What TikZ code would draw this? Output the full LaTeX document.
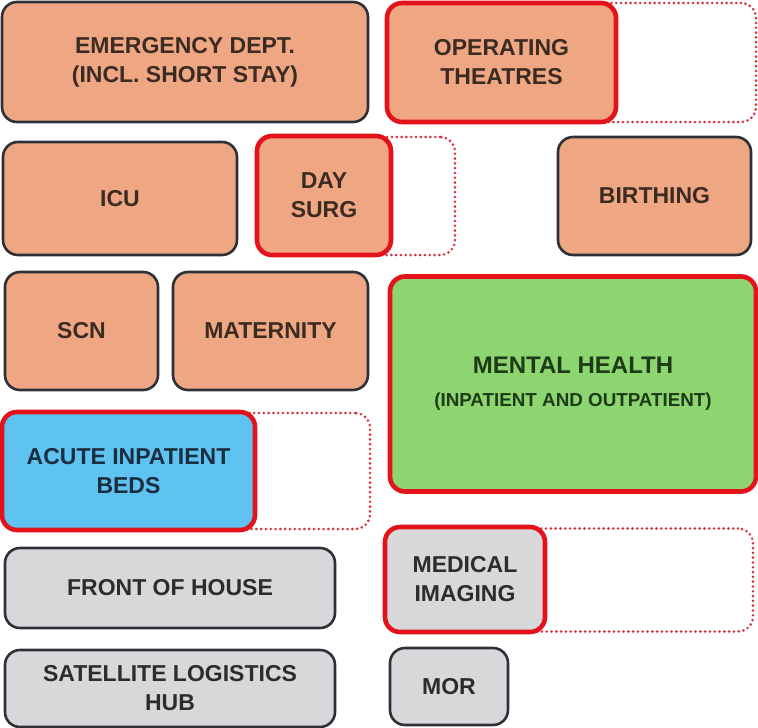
\documentclass[tikz,border=0pt]{standalone}
\usepackage{fontspec}
\setmainfont{Liberation Sans}
\usepackage{tikz}
\usetikzlibrary{positioning}
\definecolor{clincol}{HTML}{EFA783}
\definecolor{mhcol}{HTML}{8DD570}
\definecolor{bedcol}{HTML}{5EC3F0}
\definecolor{suppcol}{HTML}{D8D8DB}
\definecolor{edgecol}{HTML}{2B3137}
\definecolor{flagcol}{HTML}{E3121B}
\definecolor{growcol}{HTML}{D8303C}
\definecolor{txtcol}{HTML}{3B2B22}
\definecolor{mhtxt}{HTML}{1E3A16}
\definecolor{bedtxt}{HTML}{1B2D40}
\definecolor{supptxt}{HTML}{2C2C2E}
\begin{document}
\begin{tikzpicture}[x=1pt,y=-1pt,
  dept/.style={draw=edgecol,line width=2.6pt,rounded corners=15pt,align=center,
    text=txtcol,font=\bfseries\fontsize{23}{29}\selectfont,inner sep=0pt},
  flagged/.style={dept,draw=flagcol,line width=4.6pt},
  growth/.style={draw=growcol,line width=2.9pt,line cap=round,dash pattern=on 0pt off 4.8pt,
    rounded corners=15pt,inner sep=0pt}]
  \useasboundingbox (0,0) rectangle (758,728);
  % dotted expansion zones, drawn first so the boxes cover them
  \node[growth,minimum width=369,minimum height=119] (otx) at (571.5,62.5) {};
  \node[growth,minimum width=198,minimum height=118] (dsx) at (356,196) {};
  \node[growth,minimum width=368,minimum height=116] (acux) at (186,471) {};
  \node[growth,minimum width=368,minimum height=103] (mix) at (569,580) {};
  % clinical
  \node[dept,fill=clincol,minimum width=366,minimum height=120] (ed) at (185,62) {EMERGENCY DEPT.\\(INCL. SHORT STAY)};
  \node[flagged,fill=clincol,minimum width=229,minimum height=119] (ot) at (501.5,62.5) {OPERATING\\THEATRES};
  \node[dept,fill=clincol,minimum width=234,minimum height=113] (icu) at (120,198.5) {ICU};
  \node[flagged,fill=clincol,minimum width=134,minimum height=119] (ds) at (324,195.5) {DAY\\SURG};
  \node[dept,fill=clincol,minimum width=193,minimum height=118] (bir) at (654.5,196) {BIRTHING};
  \node[dept,fill=clincol,minimum width=153,minimum height=118] (scn) at (81.5,331) {SCN};
  \node[dept,fill=clincol,minimum width=195,minimum height=118] (mat) at (270.5,331) {MATERNITY};
  \node[flagged,fill=mhcol,minimum width=366,minimum height=215,text=mhtxt,font=\bfseries\fontsize{24}{33}\selectfont] (mh) at (573,384)
    {MENTAL HEALTH\\{\fontsize{18.8}{33}\selectfont(INPATIENT AND OUTPATIENT)}};
  \node[flagged,fill=bedcol,minimum width=253,minimum height=118,text=bedtxt] (acu) at (128.5,471) {ACUTE INPATIENT\\BEDS};
  % support
  \node[dept,fill=suppcol,minimum width=330,minimum height=80,text=supptxt] (foh) at (170,588) {FRONT OF HOUSE};
  \node[flagged,fill=suppcol,minimum width=160,minimum height=105,text=supptxt] (mi) at (465,579.5) {MEDICAL\\IMAGING};
  \node[dept,fill=suppcol,minimum width=330,minimum height=77,text=supptxt] (sat) at (170,688.5) {SATELLITE LOGISTICS\\HUB};
  \node[dept,fill=suppcol,minimum width=118,minimum height=77,text=supptxt] (mor) at (449,686.5) {MOR};
\end{tikzpicture}
\end{document}
